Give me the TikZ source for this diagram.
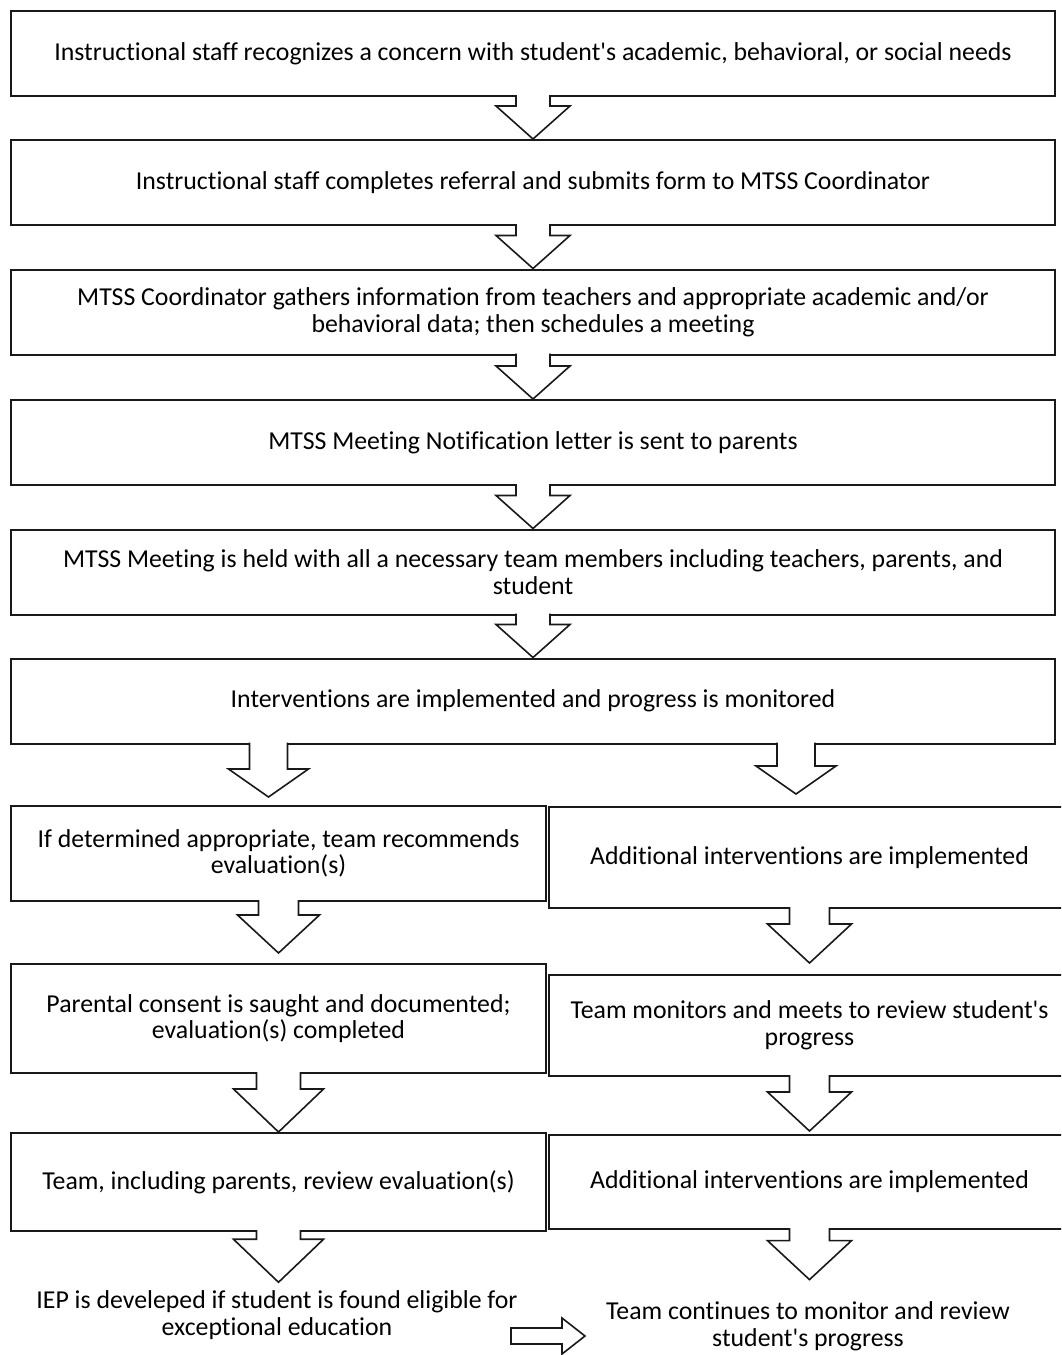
\documentclass[tikz,border=0pt]{standalone}
\usepackage{fontspec}
\setmainfont{Carlito}[Ligatures={NoCommon}]
\usetikzlibrary{calc}

\tikzset{
  flowbox/.style={draw=black!90, line width=1pt, align=center, inner sep=2pt,
    font=\fontsize{12.9}{13.3}\selectfont},
  widebox/.style={flowbox, minimum width=522pt, minimum height=42.5pt},
  leftbox/.style={flowbox, minimum width=267.5pt},
  rightbox/.style={flowbox, minimum width=260.5pt},
  plaintext/.style={align=center, inner sep=3pt, font=\fontsize{12.9}{13.3}\selectfont},
  blockarr/.style={draw=black!90, line width=0.8pt, fill=white, line join=miter}
}

\newcommand{\apos}{\textquotesingle}

% block arrow: from, to, shaft half width, head half width, head length
\newcommand{\downarr}[5]{%
  \draw[blockarr] let \p1=(#1), \p2=(#2) in
    (\x1-#3,\y1+1pt) -- (\x1-#3,\y2+#5) -- (\x1-#4,\y2+#5) -- (\x1,\y2)
    -- (\x1+#4,\y2+#5) -- (\x1+#3,\y2+#5) -- (\x1+#3,\y1+1pt);}

\begin{document}
\begin{tikzpicture}[x=0.5pt,y=-0.5pt]

\useasboundingbox (0,0) rectangle (1061,1355);
\clip (0,0) rectangle (1061,1355);

\node (staff) at (533,53.5) [widebox] {Instructional staff recognizes a concern with student\apos s academic, behavioral, or social needs};

\node (referral) at (533,182.5) [widebox] {Instructional staff completes referral and submits form to MTSS Coordinator};

\node (gather) at (533,312) [widebox] {MTSS Coordinator gathers information from teachers and appropriate academic and/or\\behavioral data; then schedules a meeting};

\node (notify) at (533,442.5) [widebox] {MTSS Meeting Notification letter is sent to parents};

\node (meeting) at (533,572) [widebox] {MTSS Meeting is held with all a necessary team members including teachers, parents, and\\student};

\node (monitor) at (533,701) [widebox] {Interventions are implemented and progress is monitored};

% left branch
\node (recommend) at (278.5,853.5) [leftbox, minimum height=47.5pt] {If determined appropriate, team recommends\\evaluation(s)};
\node (consent) at (278.5,1018.5) [leftbox, minimum height=54.5pt] {Parental consent is saught and documented;\\evaluation(s) completed};
\node (evalrev) at (278.5,1182) [leftbox, minimum height=49pt] {Team, including parents, review evaluation(s)};
\node (iep) at (277,1315) [plaintext] {IEP is develeped if student is found eligible for\\exceptional education};

% right branch
\node (addint) at (809.5,857.5) [rightbox, minimum height=50.5pt] {Additional interventions are implemented};
\node (review) at (809.5,1025.5) [rightbox, minimum height=50.5pt] {Team monitors and meets to review student\apos s\\progress};
\node (addint2) at (809.5,1182) [rightbox, minimum height=47pt] {Additional interventions are implemented};
\node (continue) at (808,1326.5) [plaintext] {Team continues to monitor and review\\student\apos s progress};

\downarr{staff.south}{referral.north}{8.5pt}{18.5pt}{16.5pt}
\downarr{referral.south}{gather.north}{8.5pt}{18.5pt}{16.5pt}
\downarr{gather.south}{notify.north}{8.5pt}{18.5pt}{16.5pt}
\downarr{notify.south}{meeting.north}{8.5pt}{18.5pt}{16.5pt}
\downarr{meeting.south}{monitor.north}{8.5pt}{18.5pt}{16.5pt}

\downarr{$(recommend.north |- monitor.south)+(-5pt,0)$}{$(recommend.north)+(0,4pt)$}{9.5pt}{20pt}{14pt}
\downarr{$(addint.north |- monitor.south)+(-6.75pt,0)$}{$(addint.north)+(0,6pt)$}{9.5pt}{20pt}{14pt}

\downarr{recommend.south}{$(consent.north)+(0,5pt)$}{10pt}{20.5pt}{19pt}
\downarr{consent.south}{evalrev.north}{11pt}{22.5pt}{21.5pt}
\downarr{evalrev.south}{$(iep.north)+(0,1pt)$}{11pt}{22.5pt}{21.5pt}

\downarr{addint.south}{$(review.north)+(0,5.5pt)$}{10pt}{21pt}{19.5pt}
\downarr{review.south}{$(addint2.north)+(0,1.5pt)$}{10pt}{21pt}{19.5pt}
\downarr{addint2.south}{$(continue.north)+(0,8pt)$}{10pt}{21pt}{19.5pt}

\coordinate (arrtail) at (511,1336);
\coordinate (arrtip) at (585,1336);
\draw[blockarr] let \p1=(arrtail), \p2=(arrtip) in
  (\x1,\y1-4pt) -- (\x2-11.5pt,\y1-4pt) -- (\x2-11.5pt,\y1-9pt) -- (\x2,\y2)
  -- (\x2-11.5pt,\y1+9pt) -- (\x2-11.5pt,\y1+4pt) -- (\x1,\y1+4pt) -- cycle;

\end{tikzpicture}
\end{document}
